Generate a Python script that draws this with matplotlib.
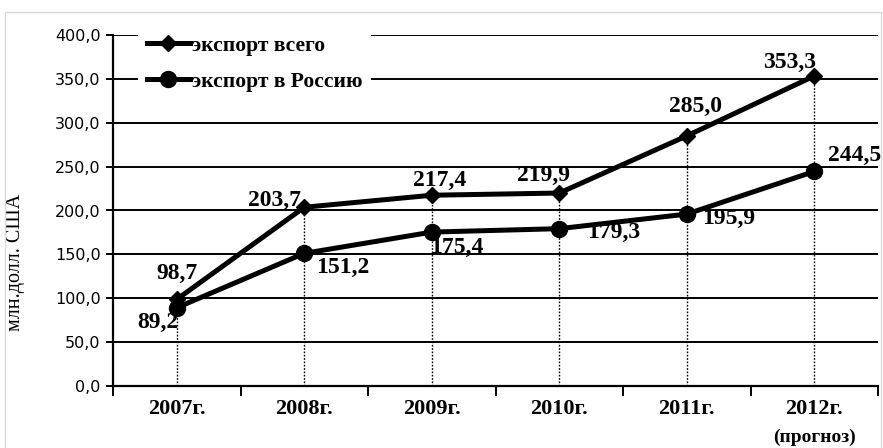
import matplotlib.pyplot as plt
from matplotlib.patches import Rectangle
from matplotlib.ticker import FixedLocator

years = ['2007г.', '2008г.', '2009г.', '2010г.', '2011г.', '2012г.']
export_total = [98.7, 203.7, 217.4, 219.9, 285.0, 353.3]
export_russia = [89.2, 151.2, 175.4, 179.3, 195.9, 244.5]
total_labels = ['98,7', '203,7', '217,4', '219,9', '285,0', '353,3']
russia_labels = ['89,2', '151,2', '175,4', '179,3', '195,9', '244,5']
yticks = [0, 50, 100, 150, 200, 250, 300, 350, 400]

# label offsets in pixels (dx, dy)
total_off = [(0, 26), (-30, 7), (8, 15), (-16, 18), (9, 29), (-25, 14)]
russia_off = [(-19, -15), (39, -14), (25, -15), (54, -4), (42, -4), (40, 16)]

serif = 'Liberation Serif'

fig = plt.figure(figsize=(8.83, 4.48), dpi=100)
fig.patches.append(Rectangle((5 / 883, -0.01), 876 / 883, 1 - 12 / 448 + 0.01,
                             transform=fig.transFigure, fill=False,
                             edgecolor='#d9d9d9', lw=1, zorder=0))
ax = fig.add_axes([113 / 883, 1 - 386 / 448, 765 / 883, 351 / 448])

x = list(range(len(years)))
ax.set_xlim(-0.5, 5.5)
ax.set_ylim(0, 400)

for yv in yticks[1:]:
    ax.axhline(yv, color='black', lw=1.4, zorder=1)
ax.vlines(x, 0, export_total, colors='black', linestyles=(0, (1.2, 1.2)), lw=1, zorder=1)

ax.plot(x, export_total, color='black', lw=3.6, marker='D', markersize=8,
        label='экспорт всего', zorder=3)
ax.plot(x, export_russia, color='black', lw=3.6, marker='o', markersize=11.5,
        label='экспорт в Россию', zorder=3)

for i in x:
    ax.annotate(total_labels[i], (i, export_total[i]), xytext=total_off[i],
                textcoords='offset pixels', ha='center', va='center',
                fontsize=17, fontweight='bold', family=serif, zorder=4)
    ax.annotate(russia_labels[i], (i, export_russia[i]), xytext=russia_off[i],
                textcoords='offset pixels', ha='center', va='center',
                fontsize=17, fontweight='bold', family=serif, zorder=4)

ax.set_yticks(yticks)
ax.set_yticklabels([f'{v:.1f}'.replace('.', ',') for v in yticks],
                   fontsize=11.5, family='DejaVu Sans')
ax.set_xticks(x)
ax.set_xticklabels(years, fontsize=16, fontweight='bold', family=serif)
ax.xaxis.set_minor_locator(FixedLocator([i - 0.5 for i in range(7)]))
ax.tick_params(axis='x', which='major', length=0, pad=9)
ax.tick_params(axis='x', which='minor', length=7, width=1.4, direction='out')
ax.tick_params(axis='y', length=5, width=1.4, direction='out', pad=4)
ax.text(5, -0.147, '(прогноз)', transform=ax.get_xaxis_transform(),
        ha='center', va='center', fontsize=14, fontweight='bold', family=serif)

ax.set_ylabel('млн.долл. США', fontsize=14.5, family=serif)
ax.yaxis.set_label_coords(-0.115, 0.353)

for s in ['top', 'right']:
    ax.spines[s].set_visible(False)
ax.spines['left'].set_linewidth(1.6)
ax.spines['bottom'].set_linewidth(1.6)

leg = ax.legend(loc='upper left', bbox_to_anchor=(25 / 765, (386 - 27) / 351),
                prop={'family': serif, 'weight': 'bold', 'size': 15.5},
                frameon=True, facecolor='white', edgecolor='none', framealpha=1,
                fancybox=False, borderaxespad=0, borderpad=0.4,
                handlelength=2.0, handletextpad=0.1, labelspacing=0.75)
leg.set_zorder(5)

fig.savefig('out.png', dpi=100)
